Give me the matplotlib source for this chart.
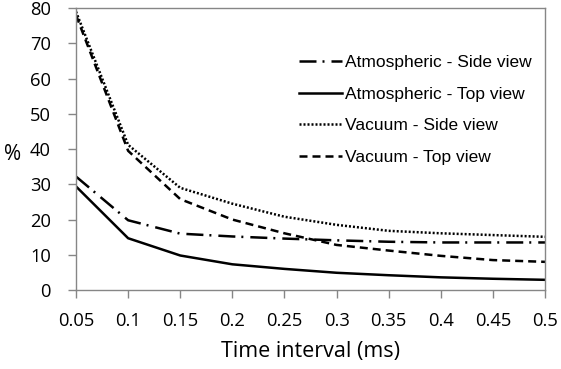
import matplotlib
matplotlib.use("Agg")
import matplotlib.pyplot as plt

x = [0.05, 0.1, 0.15, 0.2, 0.25, 0.3, 0.35, 0.4, 0.45, 0.5]
atm_side = [32.2, 19.8, 16.0, 15.2, 14.6, 14.1, 13.7, 13.5, 13.5, 13.5]
atm_top = [29.4, 14.7, 9.8, 7.3, 6.0, 4.9, 4.2, 3.6, 3.2, 2.9]
vac_side = [79.0, 41.2, 29.0, 24.5, 20.8, 18.5, 16.8, 16.1, 15.6, 15.1]
vac_top = [78.0, 39.5, 25.8, 20.0, 16.1, 12.8, 11.2, 9.7, 8.5, 8.0]
labels = ["Atmospheric - Side view", "Atmospheric - Top view",
          "Vacuum - Side view", "Vacuum - Top view"]
xtick_labels = ["0.05", "0.1", "0.15", "0.2", "0.25", "0.3", "0.35", "0.4", "0.45", "0.5"]

fig = plt.figure(figsize=(5.61, 3.69), dpi=100)
ax = fig.add_axes([0.1355, 0.214, 0.836, 0.764])

lw = 1.8
ax.plot(x, atm_side, color="black", lw=lw, dashes=(6.8, 2.4, 0.8, 2.8), label=labels[0])
ax.plot(x, atm_top, color="black", lw=lw, label=labels[1])
ax.plot(x, vac_side, color="black", lw=lw, dashes=(0.8, 0.8), label=labels[2])
ax.plot(x, vac_top, color="black", lw=lw, dashes=(3.2, 2.0), label=labels[3])

ax.set_xlim(0.05, 0.5)
ax.set_ylim(0, 80)
ax.set_xticks(x)
ax.set_xticklabels(xtick_labels)
ax.set_yticks(range(0, 81, 10))

tickfont = "Open Sans"
for lab in ax.get_xticklabels() + ax.get_yticklabels():
    lab.set_fontfamily(tickfont)
    lab.set_fontsize(13.2)

for s in ax.spines.values():
    s.set_color("#868686")
    s.set_linewidth(1.0)
ax.tick_params(axis="both", direction="out", length=6, color="#868686", width=1.0)
ax.tick_params(axis="x", pad=10)
ax.tick_params(axis="y", pad=12)

ax.set_xlabel("Time interval (ms)", fontfamily=tickfont, fontsize=15.5, labelpad=8)
fig.text(0.008, 0.58, "%", fontfamily=tickfont, fontsize=15, ha="left", va="center")

leg = ax.legend(loc="upper left", bbox_to_anchor=(299 / 561, 1 - 55 / 369),
                bbox_transform=fig.transFigure, frameon=False,
                prop={"family": "Liberation Sans", "size": 12.5},
                handlelength=2.5, handletextpad=0.15, labelspacing=0.95,
                borderpad=0, borderaxespad=0)

fig.savefig("out.png", dpi=100)
